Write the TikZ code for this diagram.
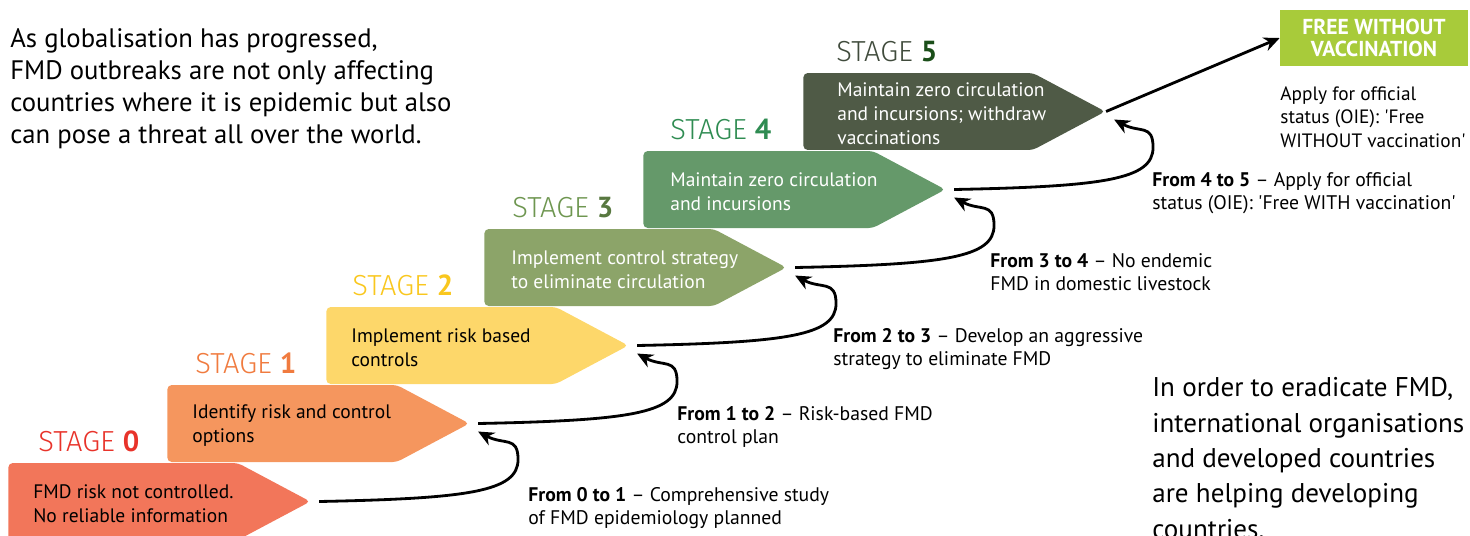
\documentclass[tikz,border=0pt]{standalone}
\usepackage{fontspec}
\setmainfont{PT Sans}
\newfontfamily\stagefont{Fira Sans Light}
\usetikzlibrary{shapes.symbols}
\usetikzlibrary{calc}
\usetikzlibrary{arrows.meta}

\definecolor{boxzero}{HTML}{F2765A}
\definecolor{boxone}{HTML}{F5965E}
\definecolor{boxtwo}{HTML}{FDD76A}
\definecolor{boxthree}{HTML}{8CA469}
\definecolor{boxfour}{HTML}{65996A}
\definecolor{boxfive}{HTML}{4F5A46}
\definecolor{labzero}{HTML}{E8332A}
\definecolor{labone}{HTML}{F07B3F}
\definecolor{labtwo}{HTML}{F9C71E}
\definecolor{labthree}{HTML}{6E9650}
\definecolor{labfour}{HTML}{2F8C52}
\definecolor{labfive}{HTML}{404B3C}
\definecolor{freegreen}{HTML}{A8CB3A}

\tikzset{
  stagebox/.style={signal, signal to=east, signal pointer angle=56,
    minimum width=6.04cm, minimum height=1.54cm, inner sep=0pt,
    rounded corners=2.5pt, anchor=west},
  boxtext/.style={anchor=west, align=left, inner sep=0pt,
    font=\fontsize{11.1}{13.6}\selectfont},
  stagelabel/.style={anchor=west, inner sep=0pt,
    font=\fontsize{16.5}{18}\selectfont},
  note/.style={anchor=west, align=left, inner sep=0pt,
    font=\fontsize{11.2}{13.4}\selectfont},
  flow/.style={line width=1.6pt, -{Stealth[length=9pt,width=8pt]}}
}

\begin{document}
\begin{tikzpicture}[x=0.02cm, y=-0.02cm]

  \useasboundingbox (0,0) rectangle (1470,535);

  % stages
  \node[stagebox, fill=boxzero] (s0) at (8,501.5) {};
  \node[stagebox, fill=boxone] (s1) at (167,423.5) {};
  \node[stagebox, fill=boxtwo] (s2) at (326,345.5) {};
  \node[stagebox, fill=boxthree] (s3) at (484,267.5) {};
  \node[stagebox, fill=boxfour] (s4) at (643,189.5) {};
  \node[stagebox, fill=boxfive] (s5) at (803,111.5) {};

  \node[boxtext] (t0) at ($(s0.west)+(25,2)$) {FMD risk not controlled.\\No reliable information};
  \node[boxtext] (t1) at ($(s1.west)+(25,2)$) {Identify risk and control\\options};
  \node[boxtext] (t2) at ($(s2.west)+(25,2)$) {Implement risk based\\controls};
  \node[boxtext, text=white] (t3) at ($(s3.west)+(27,2)$) {Implement control strategy\\to eliminate circulation};
  \node[boxtext, text=white] (t4) at ($(s4.west)+(27,2)$) {Maintain zero circulation\\and incursions};
  \node[boxtext, text=white] (t5) at ($(s5.west)+(34,2)$) {Maintain zero circulation\\and incursions; withdraw\\vaccinations};

  \node[stagelabel, text=labzero] (l0) at ($(s0.west)+(30,-60)$) {{\stagefont STAGE} \textbf{0}};
  \node[stagelabel, text=labone] (l1) at ($(s1.west)+(28,-60)$) {{\stagefont STAGE} \textbf{1}};
  \node[stagelabel, text=labtwo] (l2) at ($(s2.west)+(26,-60)$) {{\stagefont STAGE} \textbf{2}};
  \node[stagelabel, text=labthree] (l3) at ($(s3.west)+(28,-60)$) {{\stagefont STAGE} \textbf{\color{labthree!80!black}3}};
  \node[stagelabel, text=labfour] (l4) at ($(s4.west)+(27,-60)$) {{\stagefont STAGE} \textbf{4}};
  \node[stagelabel, text=labfive] (l5) at ($(s5.west)+(33,-60)$) {{\stagefont STAGE} \textbf{\color{labfive!70!green!60!black}5}};

  % steps between stages
  \foreach \a/\b in {0/1,1/2,2/3,3/4,4/5}
    \draw[flow] ($(s\a.east)+(8,0)$) .. controls +(150,-3) and +(0,32) .. ($(s\a.east)+(207,-42)$)
      .. controls +(0,-24) and +(26,14) .. ($(s\b.east)+(8,8)$);

  \node[note] (n0) at (528,508) {\textbf{From 0 to 1} -- Comprehensive study\\of FMD epidemiology planned};
  \node[note] (n1) at (677,427) {\textbf{From 1 to 2} -- Risk-based FMD\\control plan};
  \node[note] (n2) at (833,349) {\textbf{From 2 to 3} -- Develop an aggressive\\strategy to eliminate FMD};
  \node[note] (n3) at (990,272) {\textbf{From 3 to 4} -- No endemic\\FMD in domestic livestock};
  \node[note] (n4) at (1152,193) {\textbf{From 4 to 5} -- Apply for official\\status (OIE): \textquotesingle Free WITH vaccination\textquotesingle};

  % final status
  \node[fill=freegreen, minimum width=3.76cm, minimum height=1.12cm, align=center,
    text=white, font=\fontsize{12.3}{12.8}\selectfont\bfseries] (free) at (1374,38) {FREE WITHOUT\\VACCINATION};
  \draw[flow] (s5.east) -- (free.west);
  \node[note, font=\fontsize{11}{13.4}\selectfont] (apply) at (1280,117) {Apply for official\\status (OIE): \textquotesingle Free\\WITHOUT vaccination\textquotesingle};

  % side texts
  \node[anchor=west, align=left, inner sep=0pt, font=\fontsize{15.2}{18.2}\selectfont] (intro) at (10,89)
    {As globalisation has progressed,\\FMD outbreaks are not only affecting\\countries where it is epidemic but also\\can pose a threat all over the world.};
  \node[anchor=west, align=left, inner sep=0pt, font=\fontsize{15.4}{20.1}\selectfont] (outro) at (1152,458)
    {In order to eradicate FMD,\\international organisations\\and developed countries\\are helping developing\\countries.};

\end{tikzpicture}
\end{document}
